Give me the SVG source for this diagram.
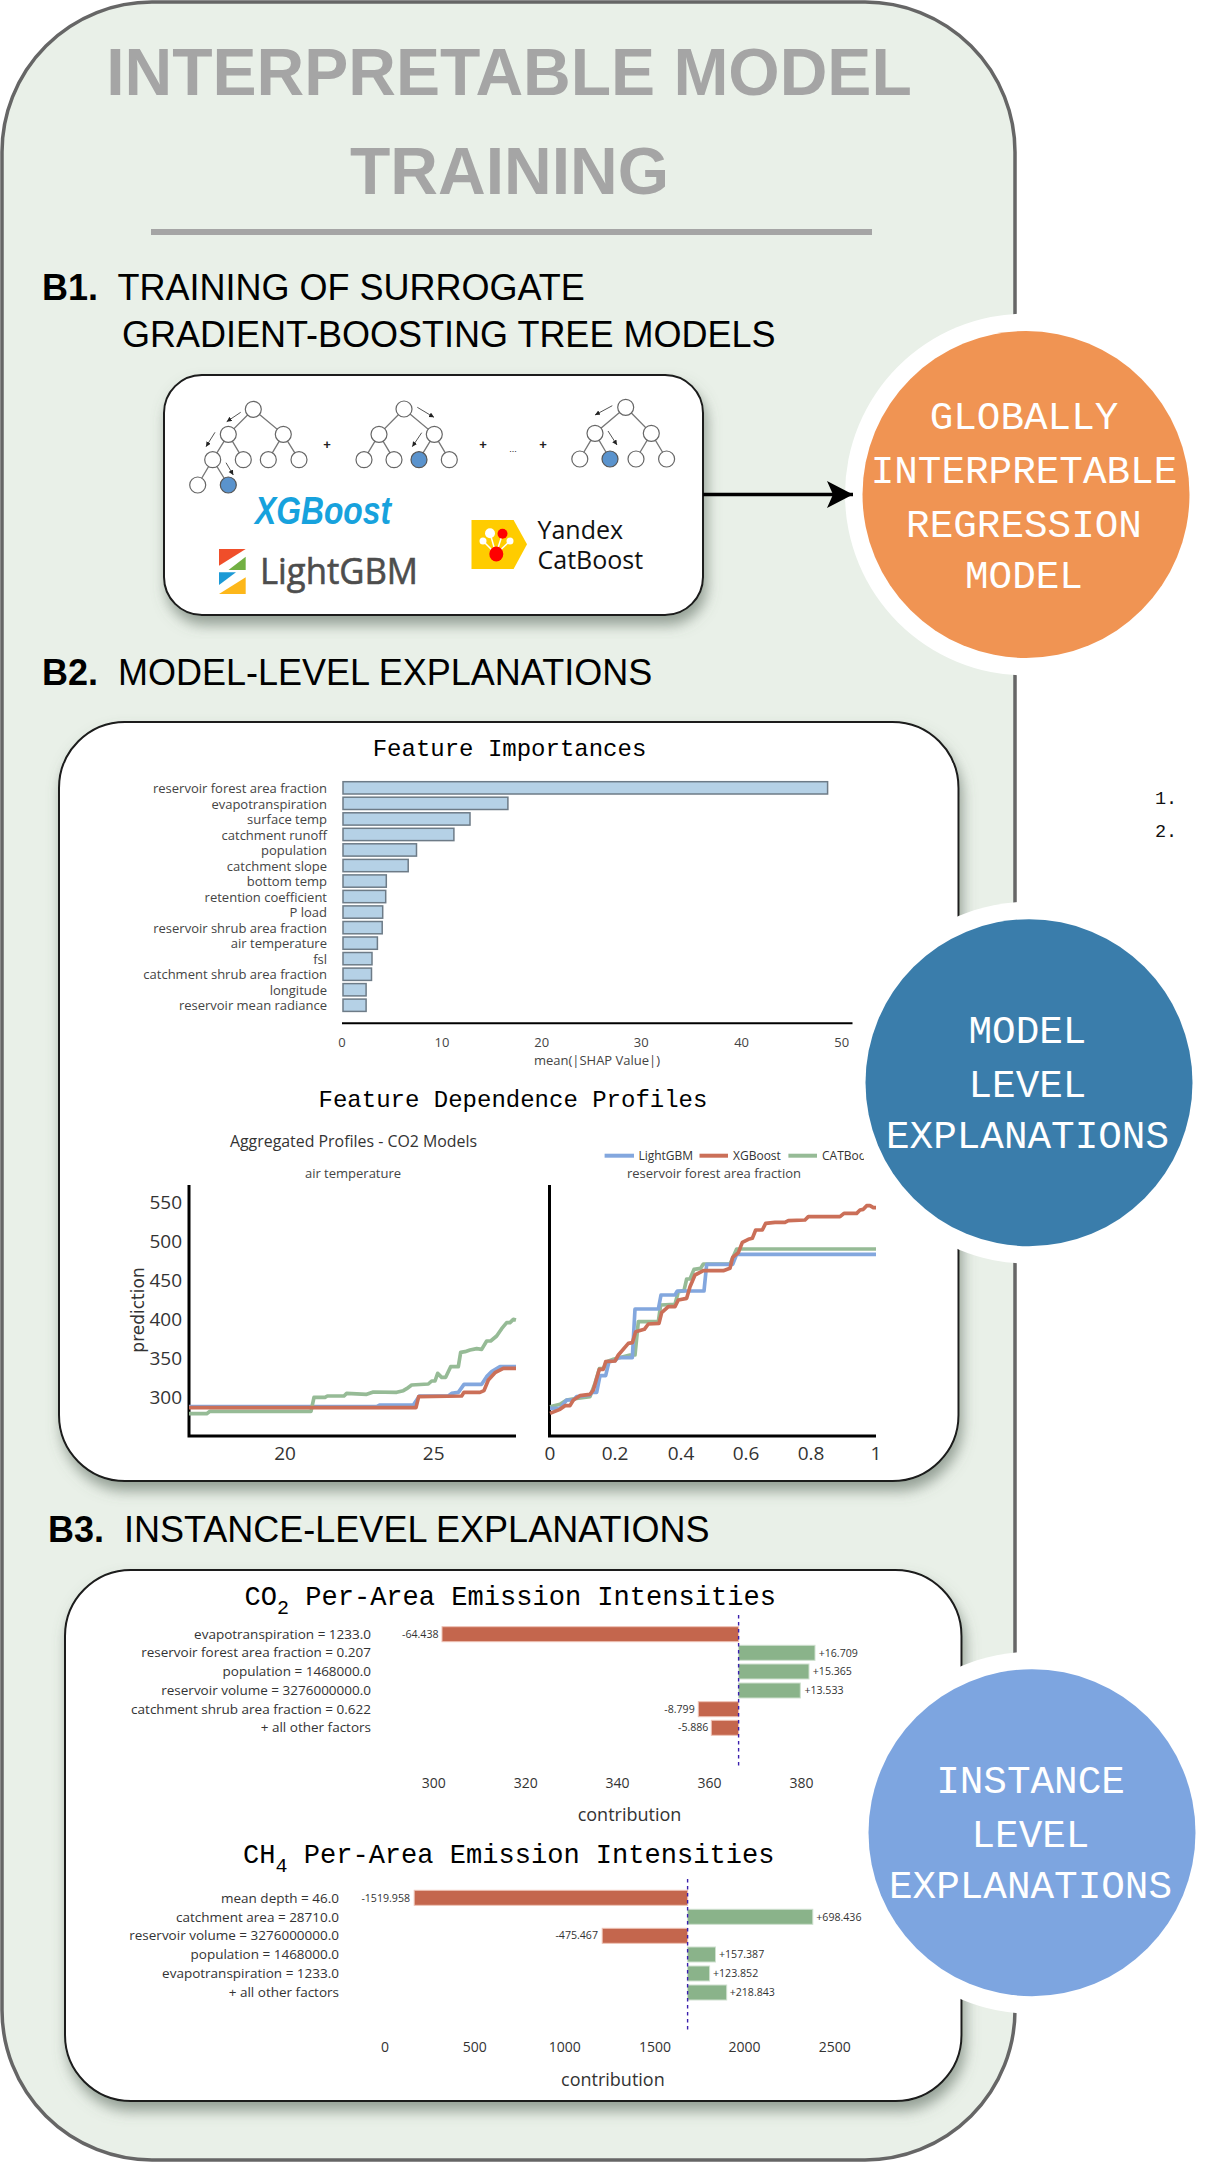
<svg xmlns="http://www.w3.org/2000/svg" width="1215" height="2163" viewBox="0 0 1215 2163">
<style>
.ttl{font:bold 66px "Liberation Sans",Arial,sans-serif;fill:#a5a5a5;text-anchor:middle}
.hb{font:bold 36px "Liberation Sans",Arial,sans-serif;fill:#000}
.h{font:36px "Liberation Sans",Arial,sans-serif;fill:#000}
.panel{fill:#fff;stroke:#1a1a1a;stroke-width:2;filter:url(#sh)}
.m24{font:24px "Liberation Mono",monospace;fill:#000;text-anchor:middle}
.m27{font:27px "Liberation Mono",monospace;fill:#000}
.circ{font:39.3px "Liberation Mono",monospace;fill:#fff;text-anchor:middle}
.lab{font:13px "Open Sans",sans-serif;fill:#444;text-anchor:end}
.tk{font:13px "Open Sans",sans-serif;fill:#444;text-anchor:middle}
.bar{fill:#b5d1e6;stroke:#6d7b87;stroke-width:1.5}
.ytk{font:19px "Open Sans",sans-serif;fill:#333;text-anchor:end}
.xtk{font:19px "Open Sans",sans-serif;fill:#333;text-anchor:middle}
.lg{font:12px "Open Sans",sans-serif;fill:#333}
.ax{stroke:#000;stroke-width:3;fill:none}
.cv{fill:none;stroke-width:11;stroke-linejoin:round}
.cb{stroke:#83a7de}.cr{stroke:#cb6f58}.cg{stroke:#96bb96}
.rb{fill:#c4664d;stroke:#eec3b6;stroke-width:1}
.gb{fill:#8ab38a;stroke:#cfe0cf;stroke-width:1}
.dash{stroke:#3a1fae;stroke-width:1.4;stroke-dasharray:3.5 3.5}
.slab{font:13.5px "Open Sans",sans-serif;fill:#333;text-anchor:end}
.val{font:10.6px "Open Sans",sans-serif;fill:#333}
.stk{font:14px "Open Sans",sans-serif;fill:#333;text-anchor:middle}
.con{font:18px "Open Sans",sans-serif;fill:#333;text-anchor:middle}
.nd{fill:#fff;stroke:#666;stroke-width:1.2}
.nb{fill:#5a93cd;stroke:#555;stroke-width:1.2}
.ed{stroke:#777;stroke-width:1.3;fill:none}
.ar{stroke:#555;stroke-width:1;fill:none;marker-end:url(#sm)}
.pl{font:bold 13px "Liberation Sans",sans-serif;fill:#222;text-anchor:middle}
.num{font:18.5px "Liberation Mono",monospace;fill:#111}
</style>
<defs>
<filter id="sh" x="-10%" y="-10%" width="120%" height="120%"><feDropShadow dx="3" dy="9" stdDeviation="7" flood-color="#5b6b5f" flood-opacity="0.6"/></filter>
<marker id="big" markerUnits="userSpaceOnUse" markerWidth="30" markerHeight="30" refX="26" refY="14" orient="auto"><path d="M0,0.5 L26,14 L0,27.5 L6,14 Z" fill="#000"/></marker>
<marker id="sm" markerUnits="userSpaceOnUse" markerWidth="6" markerHeight="6" refX="5" refY="2.5" orient="auto"><path d="M0,0 L5,2.5 L0,5 Z" fill="#222"/></marker>
<clipPath id="lgclip"><rect x="600" y="1145" width="264" height="22"/></clipPath>
<clipPath id="tkclip"><rect x="540" y="1440" width="338" height="30"/></clipPath>
</defs>

<g id="outer"><rect x="2" y="2" width="1013" height="2158" rx="150" ry="150" fill="#e9f0e8" stroke="#666" stroke-width="3.5"/></g>

<g id="title">
<text class="ttl" x="509" y="95">INTERPRETABLE MODEL</text>
<text class="ttl" x="509.500" y="194">TRAINING</text>
<rect x="151" y="229" width="721" height="6" fill="#a5a5a5"/>
</g>

<g id="heading-b1">
<text class="hb" x="42" y="300">B1.</text><text class="h" x="117.500" y="300">TRAINING OF SURROGATE</text>
<text class="h" x="122" y="346.500">GRADIENT-BOOSTING TREE MODELS</text>
</g>
<g id="heading-b2"><text class="hb" x="42" y="684.500">B2.</text><text class="h" x="118" y="684.500">MODEL-LEVEL EXPLANATIONS</text></g>
<g id="heading-b3"><text class="hb" x="48" y="1542">B3.</text><text class="h" x="124" y="1542">INSTANCE-LEVEL EXPLANATIONS</text></g>

<g id="panel-training">
<rect class="panel" x="164" y="375" width="539" height="240" rx="38" ry="38"/>
<g class="ed">
<path d="M253.300,409.300L228.300,434.300L212.700,459.700L197.700,485M228.300,434.300L243.300,459.700M212.700,459.700L228.300,485M253.300,409.300L283.300,434.300L268.300,459.700M283.300,434.300L299,459.700"/>
<path d="M404,409L379,434.300L364,459.700M379,434.300L394,459.700M404,409L434.300,434.300L419,459.700M434.300,434.300L449.300,459.700"/>
<path d="M625.700,407.300L595,433.300L579.800,459M595,433.300L610,459M625.700,407.300L651.300,433.300L636,459M651.300,433.300L666.600,459"/>
</g>
<g>
<ellipse class="nd" cx="253.300" cy="409.300" rx="8" ry="8"/><ellipse class="nd" cx="228.300" cy="434.300" rx="8" ry="8"/><ellipse class="nd" cx="283.300" cy="434.300" rx="8" ry="8"/><ellipse class="nd" cx="212.700" cy="459.700" rx="8" ry="8"/><ellipse class="nd" cx="243.300" cy="459.700" rx="8" ry="8"/><ellipse class="nd" cx="268.300" cy="459.700" rx="8" ry="8"/><ellipse class="nd" cx="299" cy="459.700" rx="8" ry="8"/><ellipse class="nd" cx="197.700" cy="485" rx="8" ry="8"/><ellipse class="nb" cx="228.300" cy="485" rx="8" ry="8"/>
<ellipse class="nd" cx="404" cy="409" rx="8" ry="8"/><ellipse class="nd" cx="379" cy="434.300" rx="8" ry="8"/><ellipse class="nd" cx="434.300" cy="434.300" rx="8" ry="8"/><ellipse class="nd" cx="364" cy="459.700" rx="8" ry="8"/><ellipse class="nd" cx="394" cy="459.700" rx="8" ry="8"/><ellipse class="nb" cx="419" cy="459.700" rx="8" ry="8"/><ellipse class="nd" cx="449.300" cy="459.700" rx="8" ry="8"/>
<ellipse class="nd" cx="625.700" cy="407.300" rx="8" ry="8"/><ellipse class="nd" cx="595" cy="433.300" rx="8" ry="8"/><ellipse class="nd" cx="651.300" cy="433.300" rx="8" ry="8"/><ellipse class="nd" cx="579.800" cy="459" rx="8" ry="8"/><ellipse class="nb" cx="610" cy="459" rx="8" ry="8"/><ellipse class="nd" cx="636" cy="459" rx="8" ry="8"/><ellipse class="nd" cx="666.600" cy="459" rx="8" ry="8"/>
</g>
<path class="ar" d="M240.700,412.300L226.700,421.700"/><path class="ar" d="M215,432.300L206,446.700"/><path class="ar" d="M226,462.700L233.300,475"/>
<path class="ar" d="M417.300,407.300L434,417.300"/><path class="ar" d="M421.700,432.700L412.300,446.700"/>
<path class="ar" d="M612.300,405.700L595,415"/><path class="ar" d="M608,431L617,445"/>
<text class="pl" x="327" y="449">+</text><text class="pl" x="483" y="449">+</text><text class="pl" x="543" y="449">+</text>
<text class="pl" x="513" y="452" style="font-weight:normal;font-size:9px">...</text>
<text x="255" y="524" textLength="136" lengthAdjust="spacingAndGlyphs" style="font:italic bold 38px 'Liberation Sans',sans-serif;fill:#17a2dd">XGBoost</text>
<g>
<polygon points="219,549 245.700,549 219,565.700" fill="#f04e2a"/>
<polygon points="245.700,556.700 245.700,570 228.500,570" fill="#72b043"/>
<polygon points="219,572.300 236,572.300 219,585" fill="#1c9ad6"/>
<polygon points="245.700,577.300 245.700,594 219,594" fill="#fdb71a"/>
</g>
<text x="260" y="584" style="font:36px 'Open Sans',sans-serif;fill:#4d4d4d;stroke:#4d4d4d;stroke-width:0.6" textLength="158" lengthAdjust="spacingAndGlyphs">LightGBM</text>
<polygon points="471.500,520 513.600,520 527,544.300 513.600,569 471.500,569" fill="#ffcc00"/>
<g stroke="#fff" stroke-width="1.5"><path d="M496,554L490,533M496,554L483,541M496,554L510,541M496,554L502.500,534"/></g>
<circle cx="490" cy="533.300" r="5" fill="#fff"/><circle cx="483" cy="541" r="3.500" fill="#fff"/><circle cx="510" cy="541" r="3.500" fill="#fff"/>
<circle cx="502.500" cy="533.700" r="5" fill="#f00"/><ellipse cx="496.300" cy="554" rx="7" ry="7.500" fill="#f00"/>
<text x="537.500" y="538.500" style="font:25px 'Open Sans',sans-serif;fill:#111">Yandex</text>
<text x="537.500" y="569" style="font:25px 'Open Sans',sans-serif;fill:#111">CatBoost</text>
</g>

<g id="panel-model">
<rect class="panel" x="59" y="722" width="899.500" height="759" rx="66" ry="66"/>
<text class="m24" x="509.500" y="756">Feature Importances</text>
<g>
<rect class="bar" x="343" y="781.700" width="484.600" height="12.300"/>
<rect class="bar" x="343" y="797.200" width="164.900" height="12.300"/>
<rect class="bar" x="343" y="812.800" width="127" height="12.300"/>
<rect class="bar" x="343" y="828.300" width="110.900" height="12.300"/>
<rect class="bar" x="343" y="843.800" width="73.500" height="12.300"/>
<rect class="bar" x="343" y="859.400" width="65.200" height="12.300"/>
<rect class="bar" x="343" y="874.900" width="43.300" height="12.300"/>
<rect class="bar" x="343" y="890.400" width="42.700" height="12.300"/>
<rect class="bar" x="343" y="905.900" width="39.700" height="12.300"/>
<rect class="bar" x="343" y="921.500" width="39.200" height="12.300"/>
<rect class="bar" x="343" y="937" width="34.400" height="12.300"/>
<rect class="bar" x="343" y="952.500" width="29" height="12.300"/>
<rect class="bar" x="343" y="968.100" width="28.500" height="12.300"/>
<rect class="bar" x="343" y="983.600" width="23.100" height="12.300"/>
<rect class="bar" x="343" y="999.100" width="23.100" height="12.300"/>
</g>
<g>
<text class="lab" x="327" y="793">reservoir forest area fraction</text>
<text class="lab" x="327" y="808.500">evapotranspiration</text>
<text class="lab" x="327" y="824">surface temp</text>
<text class="lab" x="327" y="839.500">catchment runoff</text>
<text class="lab" x="327" y="855">population</text>
<text class="lab" x="327" y="870.600">catchment slope</text>
<text class="lab" x="327" y="886">bottom temp</text>
<text class="lab" x="327" y="901.700">retention coefficient</text>
<text class="lab" x="327" y="917.200">P load</text>
<text class="lab" x="327" y="932.700">reservoir shrub area fraction</text>
<text class="lab" x="327" y="948.200">air temperature</text>
<text class="lab" x="327" y="963.800">fsl</text>
<text class="lab" x="327" y="979.300">catchment shrub area fraction</text>
<text class="lab" x="327" y="994.800">longitude</text>
<text class="lab" x="327" y="1010.400">reservoir mean radiance</text>
</g>
<line x1="342" y1="1023.300" x2="852.500" y2="1023.300" stroke="#000" stroke-width="2"/>
<g>
<text class="tk" x="342" y="1047">0</text><text class="tk" x="442" y="1047">10</text><text class="tk" x="541.700" y="1047">20</text><text class="tk" x="641.300" y="1047">30</text><text class="tk" x="741.600" y="1047">40</text><text class="tk" x="841.800" y="1047">50</text>
<text class="tk" x="597" y="1065">mean(|SHAP Value|)</text>
</g>
<text class="m24" x="513" y="1107">Feature Dependence Profiles</text>
<text x="353.500" y="1147" style="font:15.9px 'Open Sans',sans-serif;fill:#333;text-anchor:middle">Aggregated Profiles - CO2 Models</text>
<g clip-path="url(#lgclip)">
<line class="cb" x1="604.600" y1="1155.700" x2="634" y2="1155.700" stroke-width="4"/><text class="lg" x="638.400" y="1160">LightGBM</text>
<line class="cr" x1="699.500" y1="1155.700" x2="728" y2="1155.700" stroke-width="4"/><text class="lg" x="733" y="1160">XGBoost</text>
<line class="cg" x1="788.400" y1="1155.700" x2="817" y2="1155.700" stroke-width="4"/><text class="lg" x="822" y="1160">CATBoost</text>
</g>
<text class="tk" x="353" y="1178">air temperature</text>
<text class="tk" x="714" y="1178">reservoir forest area fraction</text>
<g>
<text class="ytk" x="182" y="1209">550</text><text class="ytk" x="182" y="1248">500</text><text class="ytk" x="182" y="1287">450</text><text class="ytk" x="182" y="1326">400</text><text class="ytk" x="182" y="1365">350</text><text class="ytk" x="182" y="1404">300</text>
</g>
<text transform="translate(144,1310) rotate(-90)" style="font:17px 'DejaVu Sans',sans-serif;fill:#333;text-anchor:middle">prediction</text>
<path class="ax" d="M189,1185V1436H516M549.500,1185V1436H876"/>
<g class="lines-left" transform="translate(180,1180) scale(0.33333)">
<polyline class="cv cb" points="27,680 590,680 600,675 700,675 718,648 805,648 815,640 835,637 852,613 905,613 920,590 935,575 960,560 1008,560"/>
<polyline class="cv cg" points="27,701 80,701 90,694 393,694 402,652 435,652 442,648 492,648 500,640 560,643 580,636 650,637 670,632 680,626 695,615 745,612 755,603 765,603 773,580 785,592 797,592 812,560 835,560 842,517 855,515 870,510 890,506 905,508 920,483 932,483 950,468 965,446 980,428 990,428 1000,418 1008,420"/>
<polyline class="cv cr" points="27,683 708,683 716,650 845,648 852,637 900,637 912,632 925,600 945,578 970,565 1008,565"/>
</g>
<g class="lines-right" transform="translate(540,1180) scale(0.33333)">
<polyline class="cv cg" points="30,680 60,673 80,660 110,655 150,650 165,610 178,566 190,566 200,545 220,538 270,525 285,525 295,425 355,425 362,375 405,373 415,335 432,332 440,297 450,297 462,268 482,265 490,252 570,252 590,207 1008,207"/>
<polyline class="cv cb" points="30,685 60,685 80,660 100,660 110,650 150,645 155,637 170,637 180,587 197,587 207,545 225,542 235,533 277,533 285,387 355,387 363,345 405,345 412,333 492,333 500,253 578,253 590,223 1008,223"/>
<polyline class="cv cr" points="30,700 60,688 75,677 90,677 100,660 120,647 150,643 160,630 178,568 190,568 197,545 225,543 235,525 265,490 277,488 287,455 313,448 325,432 357,430 365,398 385,380 405,380 415,360 440,355 450,320 465,285 490,272 550,272 570,265 578,232 595,218 607,187 625,178 637,175 647,150 667,150 677,130 705,127 735,127 745,122 795,120 805,110 900,110 912,100 950,100 960,90 970,88 980,77 990,77 1000,83 1008,83"/>
</g>
<g>
<text class="xtk" x="285" y="1460">20</text><text class="xtk" x="433.700" y="1460">25</text>
</g>
<g clip-path="url(#tkclip)">
<text class="xtk" x="550" y="1460">0</text><text class="xtk" x="615" y="1460">0.2</text><text class="xtk" x="681" y="1460">0.4</text><text class="xtk" x="746" y="1460">0.6</text><text class="xtk" x="811" y="1460">0.8</text><text class="xtk" x="876" y="1460">1</text>
</g>
</g>

<g id="panel-instance">
<rect class="panel" x="65" y="1570" width="896.500" height="531" rx="66" ry="66"/>
<text class="m27" x="244.500" y="1605.300" style="font-size:27.05px">CO<tspan dy="8.400" font-size="20">2</tspan><tspan dy="-8.400"> Per-Area Emission Intensities</tspan></text>
<g>
<rect class="rb" x="442" y="1626.700" width="296.600" height="15"/>
<rect class="gb" x="738.600" y="1645.300" width="76.400" height="15"/>
<rect class="gb" x="738.600" y="1664" width="70.400" height="15"/>
<rect class="gb" x="738.600" y="1683" width="61.700" height="15"/>
<rect class="rb" x="698.300" y="1701.700" width="40.300" height="15"/>
<rect class="rb" x="711.300" y="1720.300" width="27.300" height="15"/>
</g>
<line class="dash" x1="738.600" y1="1615" x2="738.600" y2="1766"/>
<g>
<text class="slab" x="371" y="1639">evapotranspiration = 1233.0</text>
<text class="slab" x="371" y="1657.400">reservoir forest area fraction = 0.207</text>
<text class="slab" x="371" y="1676.400">population = 1468000.0</text>
<text class="slab" x="371" y="1695.400">reservoir volume = 3276000000.0</text>
<text class="slab" x="371" y="1714">catchment shrub area fraction = 0.622</text>
<text class="slab" x="371" y="1732.400">+ all other factors</text>
</g>
<g>
<text class="val" x="438.500" y="1637.700" text-anchor="end">-64.438</text>
<text class="val" x="818.700" y="1656.700">+16.709</text>
<text class="val" x="812.800" y="1675">+15.365</text>
<text class="val" x="804.400" y="1694">+13.533</text>
<text class="val" x="694.700" y="1712.700" text-anchor="end">-8.799</text>
<text class="val" x="708.400" y="1731" text-anchor="end">-5.886</text>
</g>
<g>
<text class="stk" x="433.700" y="1788">300</text><text class="stk" x="525.700" y="1788">320</text><text class="stk" x="617.600" y="1788">340</text><text class="stk" x="709.600" y="1788">360</text><text class="stk" x="801.500" y="1788">380</text>
</g>
<text class="con" x="629.500" y="1821">contribution</text>

<text class="m27" x="243" y="1863.300" style="font-size:27.05px">CH<tspan dy="8.400" font-size="20">4</tspan><tspan dy="-8.400"> Per-Area Emission Intensities</tspan></text>
<g>
<rect class="rb" x="414.200" y="1890.300" width="273.400" height="15"/>
<rect class="gb" x="687.600" y="1909.300" width="125.200" height="15"/>
<rect class="rb" x="602.200" y="1928.300" width="85.400" height="15"/>
<rect class="gb" x="687.600" y="1947" width="27.900" height="15"/>
<rect class="gb" x="687.600" y="1966" width="22" height="15"/>
<rect class="gb" x="687.600" y="1985" width="39.100" height="15"/>
</g>
<line class="dash" x1="687.600" y1="1879" x2="687.600" y2="2030"/>
<g>
<text class="slab" x="339" y="1902.800">mean depth = 46.0</text>
<text class="slab" x="339" y="1921.500">catchment area = 28710.0</text>
<text class="slab" x="339" y="1939.800">reservoir volume = 3276000000.0</text>
<text class="slab" x="339" y="1958.800">population = 1468000.0</text>
<text class="slab" x="339" y="1977.800">evapotranspiration = 1233.0</text>
<text class="slab" x="339" y="1996.500">+ all other factors</text>
</g>
<g>
<text class="val" x="410" y="1901.700" text-anchor="end">-1519.958</text>
<text class="val" x="816.300" y="1920.700">+698.436</text>
<text class="val" x="598" y="1939.300" text-anchor="end">-475.467</text>
<text class="val" x="719" y="1958.300">+157.387</text>
<text class="val" x="713" y="1976.700">+123.852</text>
<text class="val" x="729.700" y="1995.700">+218.843</text>
</g>
<g>
<text class="stk" x="385" y="2052">0</text><text class="stk" x="474.700" y="2052">500</text><text class="stk" x="564.800" y="2052">1000</text><text class="stk" x="655" y="2052">1500</text><text class="stk" x="744.500" y="2052">2000</text><text class="stk" x="834.700" y="2052">2500</text>
</g>
<text class="con" x="612.900" y="2085.700">contribution</text>
</g>

<g id="node-global">
<circle cx="1026" cy="494.500" r="181" fill="#fff"/>
<circle cx="1026" cy="494.500" r="163.500" fill="#f09453"/>
<text class="circ" x="1024" y="428.500">GLOBALLY</text><text class="circ" x="1024" y="483">INTERPRETABLE</text><text class="circ" x="1024" y="537">REGRESSION</text><text class="circ" x="1024" y="587.500">MODEL</text>
</g>
<g id="node-model">
<circle cx="1029" cy="1082.700" r="181" fill="#fff"/>
<circle cx="1029" cy="1082.700" r="163.500" fill="#3a7dab"/>
<text class="circ" x="1027.500" y="1043">MODEL</text><text class="circ" x="1027.500" y="1097">LEVEL</text><text class="circ" x="1027.500" y="1148">EXPLANATIONS</text>
</g>
<g id="node-instance">
<circle cx="1032" cy="1832.700" r="181" fill="#fff"/>
<circle cx="1032" cy="1832.700" r="163.500" fill="#7da5e0"/>
<text class="circ" x="1030.500" y="1793">INSTANCE</text><text class="circ" x="1030.500" y="1847">LEVEL</text><text class="circ" x="1030.500" y="1898">EXPLANATIONS</text>
</g>

<g id="connectors"><line x1="703" y1="494.600" x2="853" y2="494.600" stroke="#000" stroke-width="3.500" marker-end="url(#big)"/></g>

<g id="list-numbers">
<text class="num" x="1155" y="803.500">1.</text>
<text class="num" x="1155" y="837">2.</text>
</g>
</svg>
